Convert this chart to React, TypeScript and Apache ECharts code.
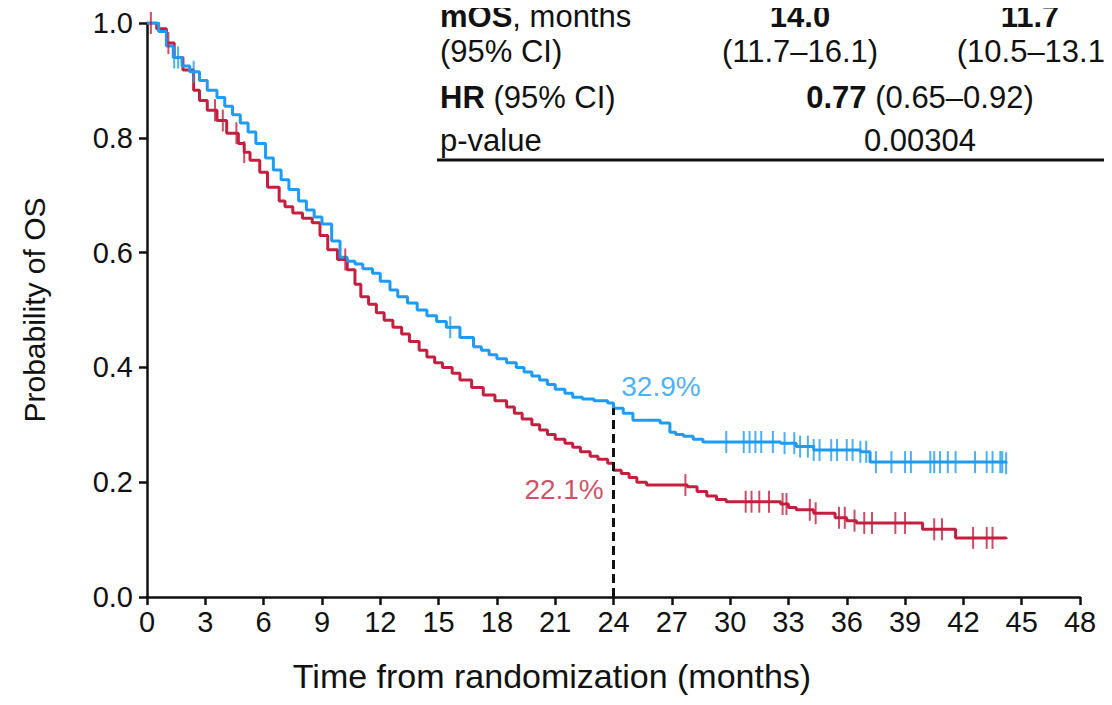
import { useEffect, useRef } from 'react'
import * as echarts from 'echarts'

// KM curve: [month, survival]
const armA: number[][] = [
  [0, 1.0], [0.6, 0.985], [1.0, 0.96], [1.35, 0.94], [1.8, 0.925], [2.2, 0.915], [2.7, 0.9],
  [3.1, 0.883], [3.6, 0.87], [4.0, 0.855], [4.4, 0.84], [4.8, 0.826], [5.2, 0.81],
  [5.6, 0.79], [6.1, 0.765], [6.5, 0.744], [6.9, 0.727], [7.3, 0.71], [7.8, 0.69], [8.2, 0.674],
  [8.6, 0.662], [9.0, 0.65], [9.5, 0.62], [9.93, 0.592], [10.3, 0.585], [10.7, 0.58],
  [11.1, 0.572], [11.6, 0.564], [12.0, 0.55], [12.5, 0.535], [12.9, 0.523], [13.4, 0.512],
  [13.9, 0.5], [14.4, 0.49], [14.9, 0.48], [15.4, 0.47], [16.1, 0.452], [16.8, 0.436],
  [17.2, 0.43], [17.6, 0.422], [18.0, 0.415], [18.5, 0.408], [19.0, 0.4], [19.4, 0.392],
  [19.8, 0.385], [20.2, 0.378], [20.6, 0.37], [21.0, 0.362], [21.5, 0.355], [21.9, 0.348],
  [22.4, 0.345], [23.0, 0.342], [23.7, 0.338], [24.0, 0.329], [24.5, 0.32], [25.0, 0.308],
  [26.4, 0.303], [26.9, 0.287], [27.2, 0.283], [27.6, 0.28], [28.1, 0.275], [28.6, 0.27],
  [32.6, 0.268], [33.4, 0.262], [34.3, 0.256], [36.7, 0.253], [37.2, 0.235], [44.2, 0.233]
]
const armB: number[][] = [
  [0, 1.0], [0.5, 0.99], [1.0, 0.965], [1.4, 0.94], [1.85, 0.918], [2.4, 0.883], [2.7, 0.865],
  [3.1, 0.848], [3.6, 0.83], [4.1, 0.808], [4.7, 0.79], [5.0, 0.775], [5.3, 0.761],
  [5.8, 0.74], [6.2, 0.714], [6.8, 0.69], [7.1, 0.68], [7.5, 0.669], [8.0, 0.66], [8.5, 0.652],
  [8.9, 0.63], [9.3, 0.605], [9.8, 0.588], [10.3, 0.57], [10.7, 0.545], [11.0, 0.523],
  [11.4, 0.51], [11.8, 0.495], [12.2, 0.482], [12.65, 0.47], [13.1, 0.458], [13.5, 0.445],
  [14.0, 0.43], [14.4, 0.418], [14.8, 0.408], [15.2, 0.4], [15.7, 0.39], [16.1, 0.378],
  [16.7, 0.365], [17.3, 0.352], [17.9, 0.342], [18.5, 0.331], [18.9, 0.32], [19.3, 0.31],
  [19.8, 0.3], [20.2, 0.291], [20.6, 0.283], [21.0, 0.275], [21.5, 0.268], [21.9, 0.261],
  [22.3, 0.253], [22.8, 0.245], [23.2, 0.24], [23.7, 0.233], [24.0, 0.221], [24.4, 0.215],
  [24.8, 0.208], [25.2, 0.2], [25.7, 0.195], [27.8, 0.192], [28.3, 0.184], [28.8, 0.176],
  [29.3, 0.17], [29.8, 0.166], [32.6, 0.162], [33.0, 0.156], [33.4, 0.152], [34.3, 0.146],
  [35.4, 0.138], [36.0, 0.133], [36.5, 0.129], [39.9, 0.118], [41.6, 0.103], [44.2, 0.101]
]
const censorA = [1.4, 1.6, 2.4, 15.6, 29.8, 30.7, 31.0, 31.3, 31.6, 32.2, 32.8, 33.3, 33.6,
  34.0, 34.3, 34.6, 35.2, 35.5, 36.0, 36.3, 36.7, 37.0, 37.5, 38.3, 39.0, 39.3, 40.3, 40.5,
  40.8, 41.2, 41.6, 42.6, 43.2, 43.5, 43.9, 44.2, 44.0]
const censorB = [0.2, 1.1, 3.5, 3.9, 4.6, 5.0, 10.2, 27.7, 30.8, 31.1, 31.5, 32.0, 32.7,
  32.9, 34.1, 34.4, 35.6, 35.9, 36.4, 36.9, 37.3, 38.5, 39.0, 40.5, 40.9, 42.5, 43.2, 43.5]
const xTicks = [0, 3, 6, 9, 12, 15, 18, 21, 24, 27, 30, 33, 36, 39, 42, 45, 48]

const BLUE = '#1e9bf5'
const RED = '#c41f3e'
const FONT = '"Liberation Sans", Arial, sans-serif'
const TS = 31 // table font size

// survival at time t (step function lookup)
const survAt = (curve: number[][], t: number) => {
  let s = curve[0][1]
  for (const [x, y] of curve) {
    if (x <= t) s = y
  }
  return s
}

const App: React.FC = () => {
  const chartRef = useRef<HTMLDivElement>(null)
  useEffect(() => {
    if (!chartRef.current) return
    const chart = echarts.init(chartRef.current, null, { renderer: 'svg' })
    const tx = (t: string, x: number, y: number, align: string, weight = 'normal', size = TS) => ({
      type: 'text', x, y,
      style: { text: t, fill: '#111', font: `${weight} ${size}px ${FONT}`, textAlign: align, textVerticalAlign: 'middle' }
    })
    const rich = (parts: [string, boolean][], x: number, y: number, align = 'left') => ({
      type: 'text', x, y,
      style: {
        text: parts.map(([s, b]) => `{${b ? 'b' : 'n'}|${s}}`).join(''),
        textAlign: align, textVerticalAlign: 'middle',
        rich: {
          b: { fontSize: TS, fontWeight: 'bold', fontFamily: FONT, fill: '#111' },
          n: { fontSize: TS, fontFamily: FONT, fill: '#111' }
        }
      }
    })
    const option: any = {
      animation: false,
      grid: { left: 147, right: 32, top: 23, bottom: 108 },
      xAxis: {
        type: 'value', min: 0, max: 48, interval: 3,
        axisLine: { lineStyle: { color: '#111', width: 2.5 } },
        axisTick: { length: 8, lineStyle: { color: '#111', width: 2.5 } },
        axisLabel: { fontSize: 29, fontFamily: FONT, color: '#111', margin: 10,
          formatter: (v: number) => (xTicks.includes(v) ? String(v) : '') },
        splitLine: { show: false }
      },
      yAxis: {
        type: 'value', min: 0, max: 1, interval: 0.2,
        name: 'Probability of OS', nameLocation: 'middle', nameGap: 98,
        nameTextStyle: { fontSize: 30, fontFamily: FONT, color: '#111' },
        axisLine: { lineStyle: { color: '#111', width: 2.5 } },
        axisTick: { length: 8, lineStyle: { color: '#111', width: 2.5 } },
        axisLabel: { fontSize: 29, fontFamily: FONT, color: '#111', margin: 14,
          formatter: (v: number) => v.toFixed(1) },
        splitLine: { show: false }
      },
      series: [
        { type: 'line', step: 'end', data: armB, showSymbol: false, lineStyle: { color: RED, width: 3 }, z: 3 },
        { type: 'line', step: 'end', data: armA, showSymbol: false, lineStyle: { color: BLUE, width: 3 }, z: 4 },
        { type: 'scatter', data: censorB.map(t => [t, survAt(armB, t)]), symbol: 'rect',
          symbolSize: [2, 22], itemStyle: { color: RED }, z: 5 },
        { type: 'scatter', data: censorA.map(t => [t, survAt(armA, t)]), symbol: 'rect',
          symbolSize: [2, 22], itemStyle: { color: BLUE }, z: 6 },
        { type: 'line', data: [[24, 0], [24, 0.329]], showSymbol: false,
          lineStyle: { color: '#111', width: 3, type: [9, 5] }, z: 7 },
        { type: 'scatter', data: [[24.4, 0.366]], symbolSize: 0,
          label: { show: true, formatter: '32.9%', position: 'right', distance: 0, color: BLUE, fontSize: 28, fontFamily: FONT } },
        { type: 'scatter', data: [[23.5, 0.187]], symbolSize: 0,
          label: { show: true, formatter: '22.1%', position: 'left', distance: 0, color: RED, fontSize: 28, fontFamily: FONT } }
      ],
      graphic: [
        tx('Time from randomization (months)', 552, 676, 'center', 'normal', 34),
        rich([['mOS', true], [', months', false]], 440, 16),
        tx('14.0', 800, 16, 'center', 'bold'),
        tx('11.7', 1030, 16, 'center', 'bold'),
        tx('(95% CI)', 440, 51, 'left'),
        tx('(11.7–16.1)', 800, 51, 'center'),
        tx('(10.5–13.1)', 1036, 51, 'center'),
        rich([['HR', true], [' (95% CI)', false]], 440, 97),
        rich([['0.77', true], [' (0.65–0.92)', false]], 920, 97, 'center'),
        tx('p-value', 440, 140, 'left'),
        tx('0.00304', 920, 140, 'center'),
        { type: 'line', shape: { x1: 437, y1: 160, x2: 1112, y2: 160 }, style: { stroke: '#111', lineWidth: 3 } }
      ]
    }
    chart.setOption(option)
    return () => chart.dispose()
  }, [])
  return <div ref={chartRef} style={{ width: '1112px', height: '705px', margin: '-8px' }} />
}

export default App
